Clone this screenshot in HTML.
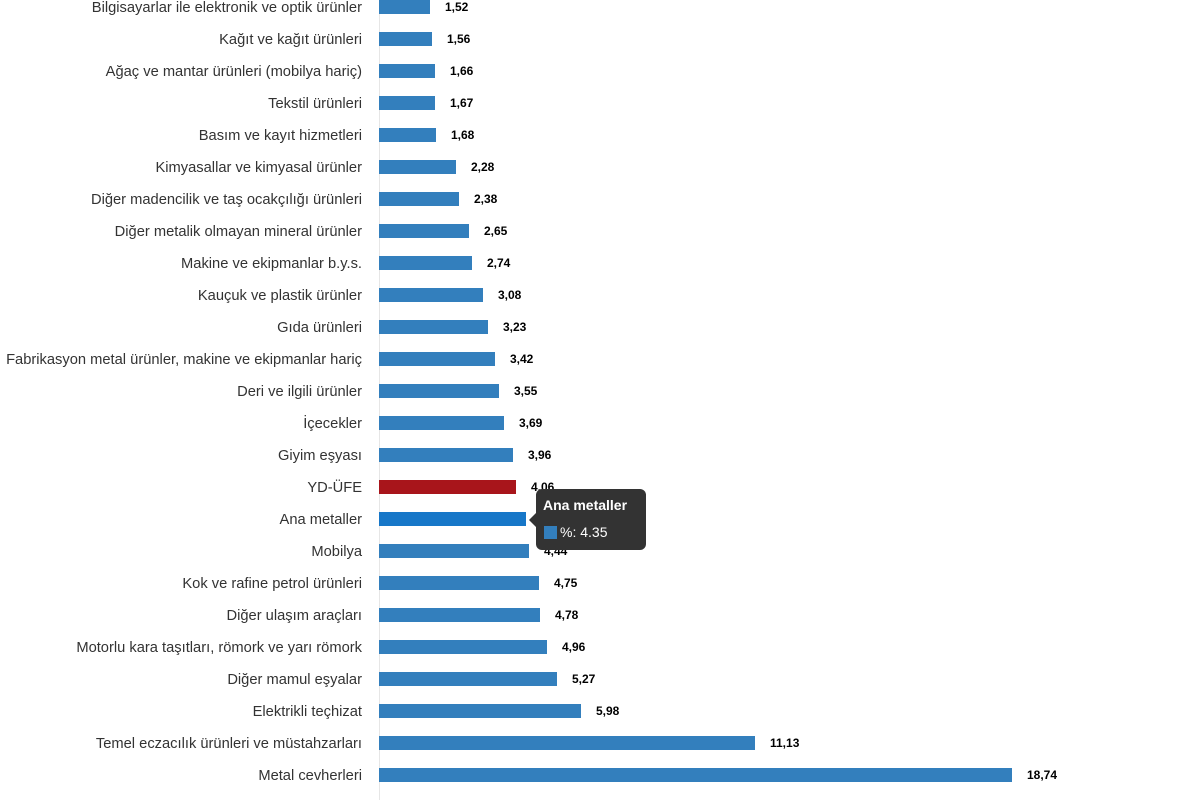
<!DOCTYPE html>
<html><head><meta charset="utf-8"><style>
body{margin:0;width:1200px;height:800px;background:#fff;position:relative;overflow:hidden;font-family:"Liberation Sans",sans-serif}
.l{position:absolute;right:838px;font-size:14.7px;color:#333;white-space:nowrap;line-height:16px;margin-top:1px}
.b{position:absolute;left:379px;height:14px;background:#337fbd}
.v{position:absolute;font-size:12px;font-weight:bold;color:#000;line-height:14px}
#ax{position:absolute;left:379px;top:0;width:1px;height:800px;background:#e6e6e6}
</style></head><body>
<div id="ax"></div>
<div class="l" style="top:-1px">Bilgisayarlar ile elektronik ve optik ürünler</div><div class="b" style="top:0;width:51px"></div><div class="v" style="top:0;left:445px">1,52</div>
<div class="l" style="top:31px">Kağıt ve kağıt ürünleri</div><div class="b" style="top:32px;width:53px"></div><div class="v" style="top:32px;left:447px">1,56</div>
<div class="l" style="top:63px">Ağaç ve mantar ürünleri (mobilya hariç)</div><div class="b" style="top:64px;width:56px"></div><div class="v" style="top:64px;left:450px">1,66</div>
<div class="l" style="top:95px">Tekstil ürünleri</div><div class="b" style="top:96px;width:56px"></div><div class="v" style="top:96px;left:450px">1,67</div>
<div class="l" style="top:127px">Basım ve kayıt hizmetleri</div><div class="b" style="top:128px;width:57px"></div><div class="v" style="top:128px;left:451px">1,68</div>
<div class="l" style="top:159px">Kimyasallar ve kimyasal ürünler</div><div class="b" style="top:160px;width:77px"></div><div class="v" style="top:160px;left:471px">2,28</div>
<div class="l" style="top:191px">Diğer madencilik ve taş ocakçılığı ürünleri</div><div class="b" style="top:192px;width:80px"></div><div class="v" style="top:192px;left:474px">2,38</div>
<div class="l" style="top:223px">Diğer metalik olmayan mineral ürünler</div><div class="b" style="top:224px;width:90px"></div><div class="v" style="top:224px;left:484px">2,65</div>
<div class="l" style="top:255px">Makine ve ekipmanlar b.y.s.</div><div class="b" style="top:256px;width:93px"></div><div class="v" style="top:256px;left:487px">2,74</div>
<div class="l" style="top:287px">Kauçuk ve plastik ürünler</div><div class="b" style="top:288px;width:104px"></div><div class="v" style="top:288px;left:498px">3,08</div>
<div class="l" style="top:319px">Gıda ürünleri</div><div class="b" style="top:320px;width:109px"></div><div class="v" style="top:320px;left:503px">3,23</div>
<div class="l" style="top:351px">Fabrikasyon metal ürünler, makine ve ekipmanlar hariç</div><div class="b" style="top:352px;width:116px"></div><div class="v" style="top:352px;left:510px">3,42</div>
<div class="l" style="top:383px">Deri ve ilgili ürünler</div><div class="b" style="top:384px;width:120px"></div><div class="v" style="top:384px;left:514px">3,55</div>
<div class="l" style="top:415px">İçecekler</div><div class="b" style="top:416px;width:125px"></div><div class="v" style="top:416px;left:519px">3,69</div>
<div class="l" style="top:447px">Giyim eşyası</div><div class="b" style="top:448px;width:134px"></div><div class="v" style="top:448px;left:528px">3,96</div>
<div class="l" style="top:479px">YD-ÜFE</div><div class="b" style="top:480px;width:137px;background:#a8151b"></div><div class="v" style="top:480px;left:531px">4,06</div>
<div class="l" style="top:511px">Ana metaller</div><div class="b" style="top:512px;width:147px;background:#1777c8"></div><div class="v" style="top:512px;left:541px">4,35</div>
<div class="l" style="top:543px">Mobilya</div><div class="b" style="top:544px;width:150px"></div><div class="v" style="top:544px;left:544px">4,44</div>
<div class="l" style="top:575px">Kok ve rafine petrol ürünleri</div><div class="b" style="top:576px;width:160px"></div><div class="v" style="top:576px;left:554px">4,75</div>
<div class="l" style="top:607px">Diğer ulaşım araçları</div><div class="b" style="top:608px;width:161px"></div><div class="v" style="top:608px;left:555px">4,78</div>
<div class="l" style="top:639px">Motorlu kara taşıtları, römork ve yarı römork</div><div class="b" style="top:640px;width:168px"></div><div class="v" style="top:640px;left:562px">4,96</div>
<div class="l" style="top:671px">Diğer mamul eşyalar</div><div class="b" style="top:672px;width:178px"></div><div class="v" style="top:672px;left:572px">5,27</div>
<div class="l" style="top:703px">Elektrikli teçhizat</div><div class="b" style="top:704px;width:202px"></div><div class="v" style="top:704px;left:596px">5,98</div>
<div class="l" style="top:735px">Temel eczacılık ürünleri ve müstahzarları</div><div class="b" style="top:736px;width:376px"></div><div class="v" style="top:736px;left:770px">11,13</div>
<div class="l" style="top:767px">Metal cevherleri</div><div class="b" style="top:768px;width:633px"></div><div class="v" style="top:768px;left:1027px">18,74</div>
<div style="position:absolute;left:536px;top:489px;width:110px;height:61px;background:#333;border-radius:6px;color:#fff">
<div style="position:absolute;left:-7px;top:24px;width:0;height:0;border-top:7px solid transparent;border-bottom:7px solid transparent;border-right:7px solid #333"></div>
<div style="position:absolute;left:7px;top:8px;font-size:14px;font-weight:bold">Ana metaller</div>
<div style="position:absolute;left:8px;top:37px;width:13px;height:13px;background:#337fbd"></div>
<div style="position:absolute;left:24px;top:35px;font-size:14px">%: 4.35</div>
</div>
</body></html>
